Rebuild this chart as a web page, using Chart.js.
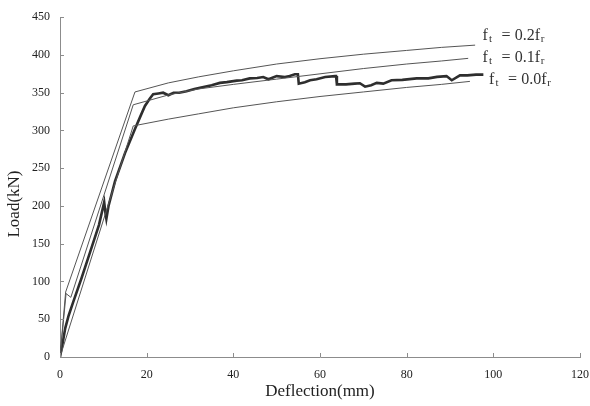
<!DOCTYPE html>
<html>
<head>
<meta charset="utf-8">
<script src="https://cdn.jsdelivr.net/npm/chart.js@4/dist/chart.umd.min.js"></script>
<style>
  html, body { margin: 0; padding: 0; background: #fff; }
  #wrap { width: 590px; height: 406px; }
</style>
</head>
<body>
<div id="wrap"><canvas id="chart" width="590" height="406"></canvas></div>
<script>
// --- Data ---
const xTicks = [0, 20, 40, 60, 80, 100, 120];
const yTicks = [0, 50, 100, 150, 200, 250, 300, 350, 400, 450];

// Model, f_t = 0.2 f_r
const ft02X = [0, 1.3, 17.3, 25, 32, 40, 50, 60, 70, 80, 88, 95.8];
const ft02Y = [0, 86, 351, 363, 371, 379, 388, 395, 401, 406, 410, 413];

// Model, f_t = 0.1 f_r
const ft01X = [0, 1.4, 2.5, 16.9, 25, 32, 40, 50, 60, 70, 80, 88, 94.2];
const ft01Y = [0, 84, 79, 334, 347, 355, 361, 368, 375, 382, 388, 392, 395.5];

// Model, f_t = 0.0 f_r
const ft00X = [0, 16.9, 25, 32, 40, 50, 60, 70, 80, 88, 94.6];
const ft00Y = [0, 306, 315, 322, 330, 338, 345, 351, 357, 361, 365];

// Test result
const testX = [0, 0.6, 1.2, 2, 3, 5, 7, 9, 10.2, 10.5, 10.7, 11.2, 12.7, 15, 17.3, 18.5, 19.6, 20.7,
  21.5, 22.7, 23.8, 25, 26.2, 27.5, 29.2, 31, 33.1, 35, 36.9, 38.5, 40.8, 42, 43.8, 45.5, 46.9, 48.1,
  50, 51.9, 53, 54.2, 54.9, 55.1, 56.5, 57.7, 59.2, 61.2, 63.5, 63.7, 63.9, 66, 68, 69.2, 70.4, 71.8,
  73.1, 74.6, 76.5, 79, 82.3, 85, 87, 89.2, 90.4, 92.3, 94, 96, 97.7];
const testY = [0, 18, 38, 55, 72, 105, 140, 175, 205, 190, 183, 200, 233, 270, 302, 318, 332.5, 342,
  348, 349, 350, 346.6, 350, 350, 352, 355, 357.6, 360, 363, 364, 366, 366.5, 369, 369.5, 370.8, 367.8,
  372, 370.8, 372, 374.4, 374.4, 362, 364, 366.5, 367.8, 370.8, 372, 372, 361, 361, 362, 362.5, 358, 360,
  363, 362, 366.5, 367, 369, 369, 371, 372, 366.5, 373, 373, 374, 374];

const lineLabels = ['0.2', '0.1', '0.0'];

const toPoints = (xs, ys) => xs.map((x, i) => ({ x: x, y: ys[i] }));

const SERIF = '"Liberation Serif", "DejaVu Serif", serif';
const AXIS_COLOR = '#8c8c8c';

// small inward tick marks on both axes
const innerTicks = {
    id: 'innerTicks',
    afterDraw(chart) {
        const ctx = chart.ctx;
        const xs = chart.scales.x, ys = chart.scales.y;
        const area = chart.chartArea;
        ctx.save();
        ctx.strokeStyle = AXIS_COLOR;
        ctx.lineWidth = 1;
        ctx.beginPath();
        xTicks.forEach(v => {
            const px = Math.round(xs.getPixelForValue(v)) + 0.5;
            ctx.moveTo(px, area.bottom);
            ctx.lineTo(px, area.bottom - 4);
        });
        yTicks.forEach(v => {
            const py = Math.round(ys.getPixelForValue(v)) + 0.5;
            ctx.moveTo(area.left, py);
            ctx.lineTo(area.left + 4, py);
        });
        ctx.stroke();
        ctx.restore();
    }
};

// "f_t = 0.Xf_r" labels next to the model lines, plus the y axis title
const ftLabels = {
    id: 'ftLabels',
    afterDraw(chart) {
        const ctx = chart.ctx;
        const xs = chart.scales.x, ys = chart.scales.y;
        const anchors = [{ x: 97.5, y: 419.7 }, { x: 97.5, y: 390.6 }, { x: 99, y: 361 }];
        ctx.save();
        ctx.fillStyle = '#333';
        ctx.textBaseline = 'alphabetic';
        ctx.textAlign = 'left';
        const big = '16px ' + SERIF;
        const small = '11px ' + SERIF;
        anchors.forEach((a, i) => {
            const x = xs.getPixelForValue(a.x);
            const y = ys.getPixelForValue(a.y);
            ctx.font = big;
            ctx.fillText('f', x, y);
            ctx.font = small;
            ctx.fillText('t', x + 6.5, y + 2);
            ctx.font = big;
            ctx.fillText('=', x + 19, y);
            const num = lineLabels[i] + 'f';
            ctx.fillText(num, x + 32.3, y);
            const w = ctx.measureText(num).width;
            ctx.font = small;
            ctx.fillText('r', x + 32.3 + w + 0.5, y + 2);
        });

        // y title sits a little below the middle of the axis in the reference
        ctx.fillStyle = '#222';
        ctx.font = '17px ' + SERIF;
        ctx.textAlign = 'center';
        ctx.textBaseline = 'middle';
        ctx.translate(15, 204);
        ctx.rotate(-Math.PI / 2);
        ctx.fillText('Load(kN)', 0, 0);
        ctx.restore();
    }
};

const ctx = document.getElementById('chart').getContext('2d');
new Chart(ctx, {
    type: 'scatter',
    data: {
        datasets: [
            { label: 'ft=0.2fr', data: toPoints(ft02X, ft02Y), borderColor: '#555', borderWidth: 1 },
            { label: 'ft=0.1fr', data: toPoints(ft01X, ft01Y), borderColor: '#555', borderWidth: 1 },
            { label: 'ft=0.0fr', data: toPoints(ft00X, ft00Y), borderColor: '#555', borderWidth: 1 },
            { label: 'Test', data: toPoints(testX, testY), borderColor: '#2e2e2e', borderWidth: 2.6 }
        ].map(d => Object.assign(d, { showLine: true, pointRadius: 0, tension: 0, fill: false }))
    },
    options: {
        responsive: false,
        animation: false,
        events: [],
        layout: { padding: { top: 16, right: 0, left: 0, bottom: 0 } },
        plugins: {
            legend: { display: false },
            tooltip: { enabled: false }
        },
        scales: {
            x: {
                type: 'linear',
                min: 0, max: 120,
                afterBuildTicks: (s) => { s.ticks = xTicks.map(v => ({ value: v })); },
                afterFit: (s) => { s.height = 49; s.paddingRight = 10; s.paddingLeft = 0; },
                grid: { display: false, drawTicks: false },
                border: { display: true, color: AXIS_COLOR, width: 1 },
                ticks: { color: '#222', padding: 11, font: { family: SERIF, size: 12 } },
                title: { display: true, text: 'Deflection(mm)', color: '#222', padding: { top: 4 },
                         font: { family: SERIF, size: 17 } }
            },
            y: {
                type: 'linear',
                min: 0, max: 450,
                afterBuildTicks: (s) => { s.ticks = yTicks.map(v => ({ value: v })); },
                afterFit: (s) => { s.width = 60; },
                grid: { display: false, drawTicks: false },
                border: { display: true, color: AXIS_COLOR, width: 1 },
                ticks: { color: '#222', padding: 10, font: { family: SERIF, size: 12 } },
                title: { display: false }
            }
        }
    },
    plugins: [innerTicks, ftLabels]
});
</script>
</body>
</html>
